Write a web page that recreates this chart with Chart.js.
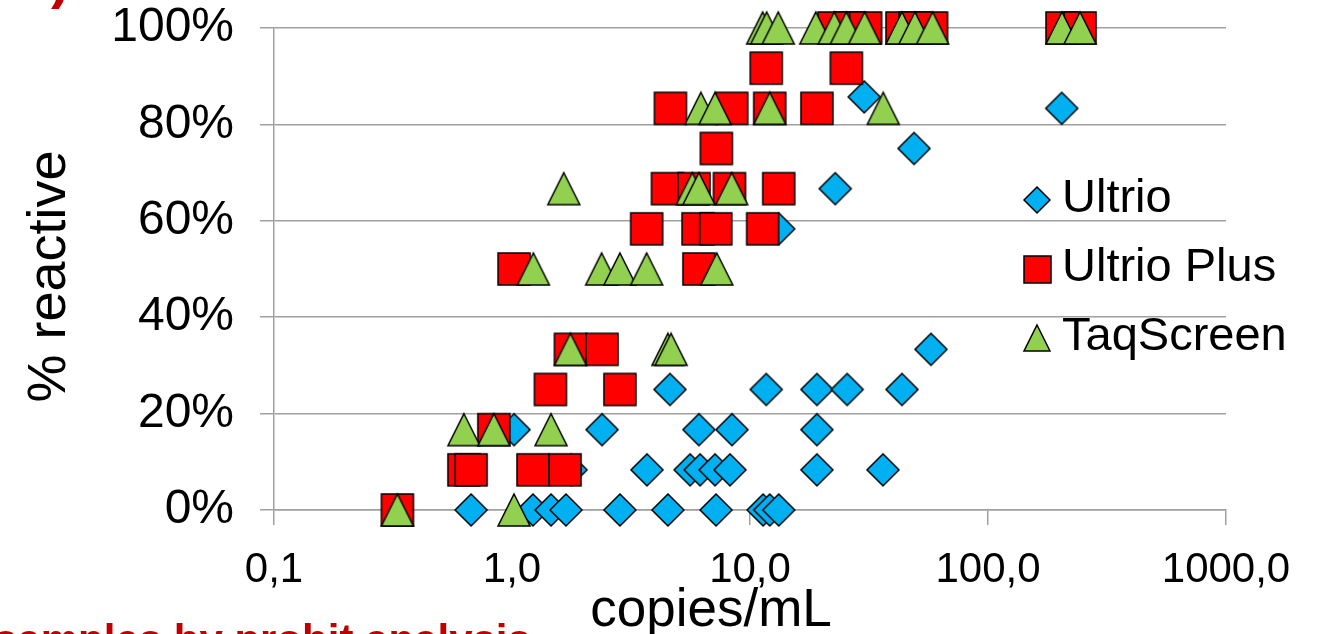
<!DOCTYPE html>
<html>
<head>
<meta charset="utf-8">
<title>% reactive vs copies/mL</title>
<script src="https://cdn.jsdelivr.net/npm/chart.js@4.4.1/dist/chart.umd.min.js"></script>
<style>
  html, body { margin: 0; padding: 0; background: #fff; overflow: hidden; }
  #wrap { position: relative; width: 1325px; height: 634px; overflow: hidden; }
  #chart { position: absolute; left: 0; top: 0; }
  .txt { position: absolute; white-space: nowrap; font-family: "Liberation Sans", Arial, sans-serif; }
  #xTitle { left: 711px; top: 581px; transform: translateX(-50%); font-size: 53px; line-height: 53px; color: #000; }
  #note { left: -6px; top: 619px; font-size: 42px; line-height: 42px; font-weight: bold; color: #c00000; }
  #paren { left: 51px; top: -50px; font-size: 56px; line-height: 56px; font-weight: bold; color: #c00000; }
</style>
</head>
<body>
<div id="wrap">
  <canvas id="chart" width="1325" height="634"></canvas>
  <div class="txt" id="paren">)</div>
  <div class="txt" id="xTitle">copies/mL</div>
  <div class="txt" id="note">samples by probit analysis</div>
</div>
<script>
// axis ticks
const xTickValues = [0.1, 1, 10, 100, 1000];
const xTickLabels = ['0,1', '1,0', '10,0', '100,0', '1000,0'];
const yTickValues = [0, 20, 40, 60, 80, 100];
const yTickLabels = ['0%', '20%', '40%', '60%', '80%', '100%'];

const seriesNames = ['Ultrio', 'Ultrio Plus', 'TaqScreen'];

// Ultrio (copies/mL, % reactive)
const ultrioX = [0.673, 1.225, 1.459, 1.686, 2.84, 4.52, 7.2, 11.35, 12.1, 13.2,
                 1.77, 3.69, 5.6, 6.17, 7.13, 8.24, 19.1, 36.2,
                 1.02, 2.39, 6.1, 8.4, 19.1,
                 4.61, 11.7, 19.1, 25.6, 43.5,
                 57.6, 13.2, 22.8, 48.9, 204, 30.2];
const ultrioY = [0, 0, 0, 0, 0, 0, 0, 0, 0, 0,
                 8.33, 8.33, 8.33, 8.33, 8.33, 8.33, 8.33, 8.33,
                 16.67, 16.67, 16.67, 16.67, 16.67,
                 25, 25, 25, 25, 25,
                 33.33, 58.33, 66.67, 75, 83.33, 85.7];

// Ultrio Plus
const plusX = [0.33,
               0.628, 0.673, 1.225, 1.67,
               0.839,
               1.45, 2.84,
               1.76, 2.39,
               1.02, 6.1,
               3.68, 6.05, 7.18, 11.3,
               4.5, 5.82, 8.2, 13.2,
               7.22,
               4.63, 8.38, 12.1, 19.1,
               11.7, 25.4,
               22.5, 26.3, 30.6, 43.5, 49.3, 57.9, 204.6, 243.6];
const plusY = [0,
               8.33, 8.33, 8.33, 8.33,
               16.67,
               25, 25,
               33.33, 33.33,
               50, 50,
               58.33, 58.33, 58.33, 58.33,
               66.67, 66.67, 66.67, 66.67,
               75,
               83.33, 83.33, 83.33, 83.33,
               91.67, 91.67,
               100, 100, 100, 100, 100, 100, 100, 100];

// TaqScreen
const taqX = [0.33, 1.02,
              0.628, 0.839, 1.459,
              1.76, 4.52, 4.66,
              1.23, 2.38, 2.84, 3.68, 7.25,
              1.65, 5.72, 6.1, 8.38,
              6.22, 7.13, 12.1, 36.3,
              11.3, 11.75, 13.15, 18.9, 22.6, 25.4, 30.3, 43.5, 49.3, 58.5, 204.6, 243.6];
const taqY = [0, 0,
              16.67, 16.67, 16.67,
              33.33, 33.33, 33.33,
              50, 50, 50, 50, 50,
              66.67, 66.67, 66.67, 66.67,
              83.33, 83.33, 83.33, 83.33,
              100, 100, 100, 100, 100, 100, 100, 100, 100, 100, 100, 100];

const FONT = '"Liberation Sans", Arial, sans-serif';

function makeMarker(shape, size, fill) {
    const pad = 2;
    const c = document.createElement('canvas');
    c.width = c.height = size + pad * 2;
    const g = c.getContext('2d');
    const s = size, h = size / 2, m = pad;
    g.beginPath();
    if (shape === 'diamond') {
        g.moveTo(m + h, m); g.lineTo(m + s, m + h); g.lineTo(m + h, m + s); g.lineTo(m, m + h);
    } else if (shape === 'square') {
        g.rect(m, m, s, s);
    } else {
        g.moveTo(m + h, m); g.lineTo(m + s, m + s); g.lineTo(m, m + s);
    }
    g.closePath();
    g.fillStyle = fill;
    g.fill();
    g.lineWidth = 1.5;
    g.strokeStyle = '#000';
    g.stroke();
    return c;
}

const markers = [
    makeMarker('diamond', 32, '#00b0f0'),
    makeMarker('square', 32, '#ff0000'),
    makeMarker('triangle', 32, '#92d050')
];
const legendMarkers = [
    makeMarker('diamond', 26, '#00b0f0'),
    makeMarker('square', 27, '#ff0000'),
    makeMarker('triangle', 26, '#92d050')
];

function toPoints(xs, ys) {
    return xs.map((x, i) => ({ x: x, y: ys[i] }));
}

// legend sits inside the plot on the right, like the original
const insideLegend = {
    id: 'insideLegend',
    afterDraw(chart) {
        const ctx = chart.ctx;
        ctx.save();
        ctx.font = '47px ' + FONT;
        ctx.fillStyle = '#000';
        ctx.textBaseline = 'middle';
        chart.data.datasets.forEach((ds, i) => {
            const y = 200 + i * 69;
            const img = legendMarkers[i];
            ctx.drawImage(img, Math.round(1037 - img.width / 2), Math.round(y - img.height / 2));
            ctx.fillText(ds.label, 1062, y - 1);
        });
        ctx.restore();
    }
};

const ctx = document.getElementById('chart').getContext('2d');
new Chart(ctx, {
    type: 'scatter',
    data: {
        datasets: [
            { label: seriesNames[0], data: toPoints(ultrioX, ultrioY), pointStyle: markers[0], pointRadius: 16, order: 3, clip: false },
            { label: seriesNames[1], data: toPoints(plusX, plusY), pointStyle: markers[1], pointRadius: 16, order: 2, clip: false },
            { label: seriesNames[2], data: toPoints(taqX, taqY), pointStyle: markers[2], pointRadius: 16, order: 1, clip: false }
        ]
    },
    options: {
        responsive: false,
        animation: false,
        events: [],
        layout: { padding: { left: 0, right: 99, top: 28, bottom: 0 } },
        plugins: {
            legend: { display: false },
            tooltip: { enabled: false }
        },
        scales: {
            x: {
                type: 'logarithmic',
                min: 0.1,
                max: 1000,
                afterBuildTicks: scale => { scale.ticks = xTickValues.map(v => ({ value: v })); },
                afterFit: scale => { scale.height = 124; },
                ticks: {
                    autoSkip: false,
                    maxRotation: 0,
                    padding: 20,
                    color: '#000',
                    font: { family: FONT, size: 42 },
                    callback: (v, i) => xTickLabels[i]
                },
                grid: { drawOnChartArea: false, drawTicks: true, tickLength: 15, color: '#a0a0a0', lineWidth: 1.5 },
                border: { display: true, color: '#a0a0a0', width: 1.5 }
            },
            y: {
                min: 0,
                max: 100,
                afterBuildTicks: scale => { scale.ticks = yTickValues.map(v => ({ value: v })); },
                afterFit: scale => {
                    scale.width = 274;
                    scale.paddingTop = 0;
                    scale.paddingBottom = 0;
                },
                ticks: {
                    padding: 26,
                    color: '#000',
                    font: { family: FONT, size: 48 },
                    callback: (v, i) => yTickLabels[i]
                },
                grid: { drawOnChartArea: true, drawTicks: true, tickLength: 14, color: '#a0a0a0', lineWidth: 1.5 },
                border: { display: true, color: '#a0a0a0', width: 1.5 },
                title: {
                    display: true,
                    text: '% reactive ',
                    color: '#000',
                    font: { family: FONT, size: 54 },
                    padding: { top: 18, bottom: 0 }
                }
            }
        }
    },
    plugins: [insideLegend]
});
</script>
</body>
</html>
